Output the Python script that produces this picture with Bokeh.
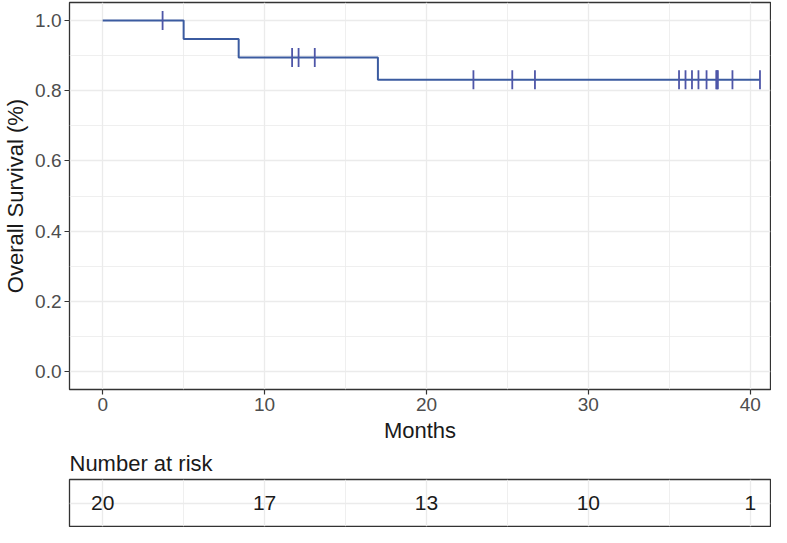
import numpy as np
from bokeh.plotting import figure
from bokeh.layouts import column
from bokeh.models import FixedTicker, Range1d, NumeralTickFormatter
from bokeh.embed import file_html
from bokeh.resources import INLINE
from bokeh.core.properties import value

# ---- data ----
event_times = [5.0, 8.4, 17.0]
censor_times = [3.7, 11.7, 12.1, 13.1, 22.9, 25.3, 26.7, 35.6, 36.0, 36.4,
                36.8, 37.3, 37.9, 37.95, 38.0, 38.9, 40.6]
risk_times = [0, 10, 20, 30, 40]
risk_counts = [20, 17, 13, 10, 1]
x_ticks = [0, 10, 20, 30, 40]
x_minor = [5, 15, 25, 35]
y_ticks = [0.0, 0.2, 0.4, 0.6, 0.8, 1.0]
y_minor = [0.1, 0.3, 0.5, 0.7, 0.9]

# ---- Kaplan-Meier estimate from the data ----
records = sorted([(t, 1) for t in event_times] + [(t, 0) for t in censor_times])
n_at_risk = len(records)
surv = 1.0
step_x, step_y = [0.0], [1.0]
cens_x, cens_y = [], []
for t in sorted(set(r[0] for r in records)):
    d = sum(1 for r in records if r[0] == t and r[1] == 1)
    c = sum(1 for r in records if r[0] == t and r[1] == 0)
    if d > 0:
        surv *= (n_at_risk - d) / n_at_risk
        step_x.append(t)
        step_y.append(surv)
    if c > 0:
        cens_x.extend([t] * c)
        cens_y.extend([surv] * c)
    n_at_risk -= d + c
step_x.append(max(r[0] for r in records))
step_y.append(surv)

FONT = "Liberation Sans"
LINE = "#3B5BA0"
CENS = "#4E56A8"
GRID = "#EBEBEB"
BORDER = "#333333"

x_range = Range1d(-2.05, 41.25)

p = figure(width=771, height=445, x_range=x_range, y_range=Range1d(-0.051, 1.051),
           output_backend="svg", toolbar_location=None,
           min_border_left=67, min_border_right=1, min_border_top=2, min_border_bottom=10)
p.background_fill_color = "white"
p.border_fill_color = "white"
p.outline_line_color = BORDER
p.outline_line_width = 1.3

for g, maj, mnr in ((p.xgrid, x_ticks, x_minor), (p.ygrid, y_ticks, y_minor)):
    g.ticker = FixedTicker(ticks=maj, minor_ticks=mnr)
    g.grid_line_color = GRID
    g.grid_line_width = 1.3
    g.minor_grid_line_color = GRID
    g.minor_grid_line_width = 0.8

p.xaxis.ticker = FixedTicker(ticks=x_ticks)
p.yaxis.ticker = FixedTicker(ticks=y_ticks)
p.yaxis.formatter = NumeralTickFormatter(format="0.0")
for ax in (p.xaxis, p.yaxis):
    ax.axis_line_color = None
    ax.major_tick_line_color = BORDER
    ax.major_tick_line_width = 1.2
    ax.major_tick_out = 5
    ax.major_tick_in = 0
    ax.minor_tick_line_color = None
    ax.major_label_text_font = FONT
    ax.major_label_text_font_size = "19px"
    ax.major_label_text_color = "#4D4D4D"
    ax.axis_label_text_font = FONT
    ax.axis_label_text_font_size = "22px"
    ax.axis_label_text_font_style = "normal"
    ax.axis_label_text_color = "#1A1A1A"
    ax.major_label_standoff = 3
    ax.axis_label_standoff = 4
p.xaxis.axis_label = "Months"
p.yaxis.axis_label = "Overall Survival (%)"

p.step(step_x, step_y, mode="after", line_color=LINE, line_width=2)
p.scatter(cens_x, cens_y, marker="dash", angle=np.pi / 2, size=19,
          line_color=CENS, line_width=1.8)

# ---- risk table ----
r = figure(width=771, height=82, x_range=x_range, y_range=Range1d(0, 2),
           output_backend="svg", toolbar_location=None,
           x_axis_location=None, y_axis_location=None,
           min_border_left=67, min_border_right=1, min_border_top=0, min_border_bottom=1)
r.background_fill_color = "white"
r.border_fill_color = "white"
r.outline_line_color = BORDER
r.outline_line_width = 1.3
r.xgrid.ticker = FixedTicker(ticks=x_ticks, minor_ticks=x_minor)
r.ygrid.ticker = FixedTicker(ticks=[1])
for g in (r.xgrid, r.ygrid):
    g.grid_line_color = GRID
    g.grid_line_width = 1.3
    g.minor_grid_line_color = GRID
    g.minor_grid_line_width = 0.8
r.title.text = "Number at risk"
r.title.text_font = FONT
r.title.text_font_size = "22px"
r.title.text_font_style = "normal"
r.title.text_color = "#1A1A1A"
r.title.align = "left"
r.title.standoff = 7

r.text(x=risk_times, y=[1] * len(risk_times), text=[str(c) for c in risk_counts],
       text_align="center", text_baseline="middle", text_font=value(FONT),
       text_font_size="21px", text_color="#1A1A1A")

layout = column(p, r, spacing=0)
open("out.html", "w").write(file_html(layout, INLINE))
